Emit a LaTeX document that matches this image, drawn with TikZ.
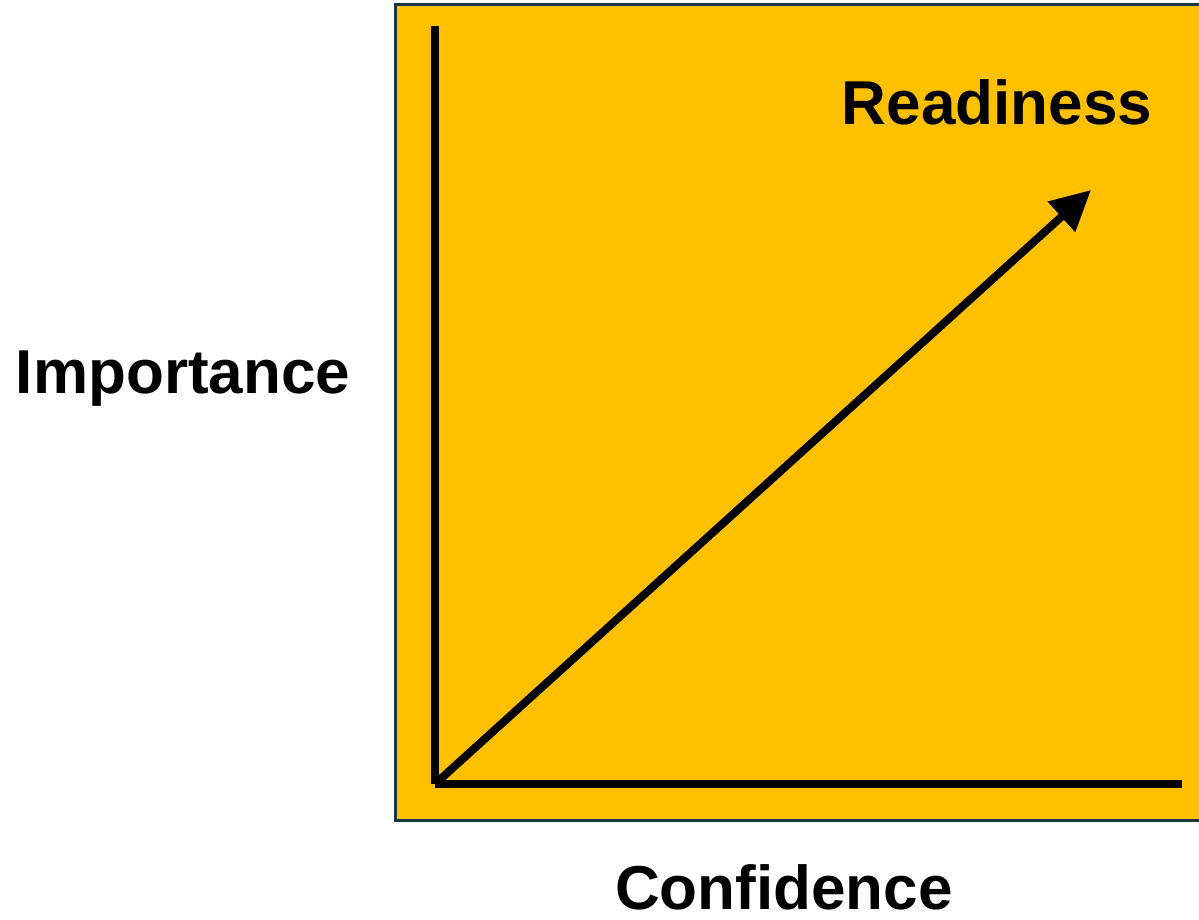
\documentclass[tikz,border=0pt]{standalone}
\usepackage{fontspec}
\setmainfont{Liberation Sans}
\usetikzlibrary{arrows.meta}
\definecolor{RDYgold}{HTML}{FFC000}
\definecolor{RDYedge}{HTML}{1B3545}
\tikzset{rdyaxis/.style={line width=8pt,draw=black},
 rdyarr/.style={-{Triangle[length=40pt,width=39pt]},line width=8pt,draw=black},
 rdylabel/.style={font=\fontsize{62}{70}\selectfont\bfseries,inner sep=0pt,anchor=base}}

\begin{document}
\begin{tikzpicture}[x=1pt,y=-1pt]
\useasboundingbox (0,0) rectangle (1199,919);
\path[fill=RDYgold,draw=RDYedge,line width=3pt] (395.5,4.5) rectangle (1203,820.5);
\coordinate (origin) at (435,784);
\coordinate (ytop) at (435,26);
\coordinate (xend) at (1182,784);
\coordinate (tip) at (1091,190);
\draw[rdyaxis] (ytop)--(origin);
\draw[rdyaxis] (origin)--(xend);
\draw[rdyarr] (origin)--(tip);
\node[rdylabel] (ready) at (997,124) {Readiness};
\node[rdylabel] (imp) at (183,393) {Importance};
\node[rdylabel] (conf) at (784,909) {Confidence};
\end{tikzpicture}
\end{document}
